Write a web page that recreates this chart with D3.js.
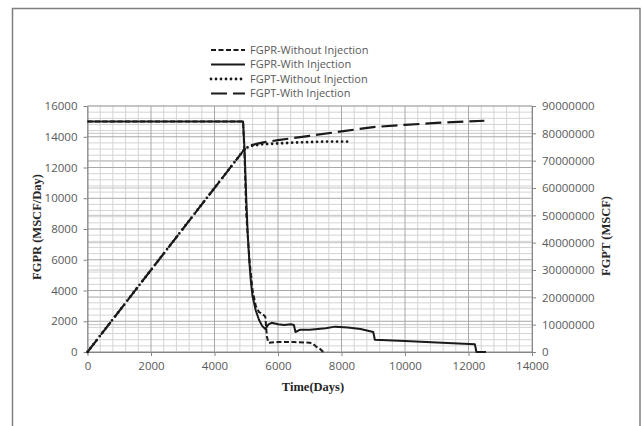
<!DOCTYPE html>
<html><head><meta charset="utf-8">
<script src="https://cdn.jsdelivr.net/npm/d3@7"></script>
<style>body{margin:0;background:#fff}svg{display:block}</style>
</head><body>
<svg id="c" width="642" height="426"></svg>
<script>
// ---- data ----
const seriesNames = ["FGPR-Without Injection","FGPR-With Injection","FGPT-Without Injection","FGPT-With Injection"];
const xTicks = [0,2000,4000,6000,8000,10000,12000,14000];
const yLeftTicks = [0,2000,4000,6000,8000,10000,12000,14000,16000];
const yRightTicks = [0,10000000,20000000,30000000,40000000,50000000,60000000,70000000,80000000,90000000];

const rateWithoutT = [0,4900,4950,5000,5100,5200,5300,5400,5500,5600,5650,5700,6000,6500,7000,7100,7200,7300,7400,7500];
const rateWithoutV = [15000,15000,12500,9000,6000,4000,3000,2600,2500,2300,1000,600,650,650,600,550,350,250,50,0];

const rateWithT = [0,4900,4950,5000,5050,5100,5150,5200,5300,5400,5500,5600,5700,5800,6000,6200,6400,6500,6550,6700,7000,7500,7800,8200,8600,9000,9050,10000,11000,12200,12250,12550];
const rateWithV = [15000,15000,13000,10000,7500,5800,4500,3600,2700,2100,1700,1500,1800,1900,1800,1750,1800,1750,1300,1450,1450,1550,1650,1600,1500,1300,800,720,620,500,0,0];

const cumWithoutT = [0,4900,5000,5200,5500,6000,6500,7000,7500,8200];
const cumWithoutV = [0,73500000,74700000,75500000,76000000,76300000,76600000,76800000,77000000,77000000];

const cumWithT = [0,4900,5000,5200,5500,6000,6500,7000,8000,9000,10000,11000,12000,12500];
const cumWithV = [0,73500000,74800000,75800000,76600000,77500000,78300000,79100000,80700000,82300000,83100000,83800000,84400000,84600000];

// ---- layout ----
const svg = d3.select("#c");
const L = 87.5, R = 532, T = 106, B = 352;
const x = d3.scaleLinear().domain([0,14000]).range([L,R]);
const yL = d3.scaleLinear().domain([0,16000]).range([B,T]);
const yR = d3.scaleLinear().domain([0,90000000]).range([B,T]);

svg.append("rect").attr("x",12.5).attr("y",8.5).attr("width",627.5).attr("height",430)
  .attr("fill","none").attr("stroke","#7f7f7f").attr("stroke-width",1.5);

const g = svg.append("g");
// minor grid
const minorX = d3.range(0,14001,400).filter(v=>v%2000!==0);
g.selectAll(".mx").data(minorX).join("line")
  .attr("x1",d=>x(d)).attr("x2",d=>x(d)).attr("y1",T).attr("y2",B)
  .attr("stroke","#d4d4d4").attr("stroke-width",1);
const minorY = d3.range(0,16001,400).filter(v=>v%2000!==0);
g.selectAll(".my").data(minorY).join("line")
  .attr("x1",L).attr("x2",R).attr("y1",d=>yL(d)).attr("y2",d=>yL(d))
  .attr("stroke","#d4d4d4").attr("stroke-width",1);
g.selectAll(".ry").data(yRightTicks).join("line")
  .attr("x1",L).attr("x2",R).attr("y1",d=>yR(d)).attr("y2",d=>yR(d))
  .attr("stroke","#c4c4c4").attr("stroke-width",1);
// major grid
g.selectAll(".Mx").data(xTicks).join("line")
  .attr("x1",d=>x(d)).attr("x2",d=>x(d)).attr("y1",T).attr("y2",B)
  .attr("stroke","#a8a8a8").attr("stroke-width",1);
g.selectAll(".My").data(yLeftTicks).join("line")
  .attr("x1",L).attr("x2",R).attr("y1",d=>yL(d)).attr("y2",d=>yL(d))
  .attr("stroke","#a8a8a8").attr("stroke-width",1);

// axes
const tickFont = "'Open Sans', sans-serif";
function styleAxis(sel){
  sel.selectAll("path").attr("stroke","#868686");
  sel.selectAll("line").attr("stroke","#868686");
  sel.selectAll("text").attr("fill","#595959").style("font-family",tickFont).style("font-size","11.5px");
}
svg.append("g").attr("transform",`translate(0,${B})`)
  .call(d3.axisBottom(x).tickValues(xTicks).tickFormat(d3.format("d")).tickSize(4).tickPadding(6).tickSizeOuter(0))
  .call(styleAxis);
svg.append("g").attr("transform",`translate(${L},0)`)
  .call(d3.axisLeft(yL).tickValues(yLeftTicks).tickFormat(d3.format("d")).tickSize(4).tickPadding(6).tickSizeOuter(0))
  .call(styleAxis);
svg.append("g").attr("transform",`translate(${R},0)`)
  .call(d3.axisRight(yR).tickValues(yRightTicks).tickFormat(d3.format("d")).tickSize(4).tickPadding(6).tickSizeOuter(0))
  .call(styleAxis);

// titles
const titleFont = "'Liberation Serif','Times New Roman',serif";
svg.append("text").attr("x",313).attr("y",391).attr("text-anchor","middle")
  .style("font-family",titleFont).style("font-weight","bold").style("font-size","12.5px").attr("fill","#262626")
  .text("Time(Days)");
svg.append("text").attr("transform","translate(41,227) rotate(-90)").attr("text-anchor","middle")
  .style("font-family",titleFont).style("font-weight","bold").style("font-size","12.5px").attr("fill","#262626")
  .text("FGPR (MSCF/Day)");
svg.append("text").attr("transform","translate(610,236) rotate(-90)").attr("text-anchor","middle")
  .style("font-family",titleFont).style("font-weight","bold").style("font-size","12.5px").attr("fill","#262626")
  .text("FGPT (MSCF)");

// series
const styles = [
  {dash:"5,2.5", w:2, cap:"butt"},
  {dash:null, w:2, cap:"butt"},
  {dash:"0,5", w:2.8, cap:"round"},
  {dash:"16,6", w:2.2, cap:"butt"}
];
const lineL = d3.line().x(d=>x(d[0])).y(d=>yL(d[1]));
const lineR = d3.line().x(d=>x(d[0])).y(d=>yR(d[1]));
const data = [
  {pts:rateWithoutT.map((t,i)=>[t,rateWithoutV[i]]), gen:lineL},
  {pts:rateWithT.map((t,i)=>[t,rateWithV[i]]), gen:lineL},
  {pts:cumWithoutT.map((t,i)=>[t,cumWithoutV[i]]), gen:lineR},
  {pts:cumWithT.map((t,i)=>[t,cumWithV[i]]), gen:lineR}
];
[3,2,1,0].forEach(i=>{
  const s = styles[i];
  svg.append("path").attr("d",data[i].gen(data[i].pts))
    .attr("fill","none").attr("stroke","#1a1a1a").attr("stroke-width",s.w)
    .attr("stroke-dasharray",s.dash).attr("stroke-linecap",s.cap).attr("stroke-linejoin","round");
});

// legend
const legY = [50,64.5,79,93.5];
seriesNames.forEach((n,i)=>{
  const s = styles[i];
  svg.append("line").attr("x1",211).attr("x2",245).attr("y1",legY[i]).attr("y2",legY[i])
    .attr("stroke","#1a1a1a").attr("stroke-width",s.w).attr("stroke-dasharray",s.dash).attr("stroke-linecap",s.cap);
  svg.append("text").attr("x",250).attr("y",legY[i]).attr("dy","0.35em")
    .style("font-family",tickFont).style("font-size","11px").attr("fill","#595959").text(n);
});
</script>
</body></html>
